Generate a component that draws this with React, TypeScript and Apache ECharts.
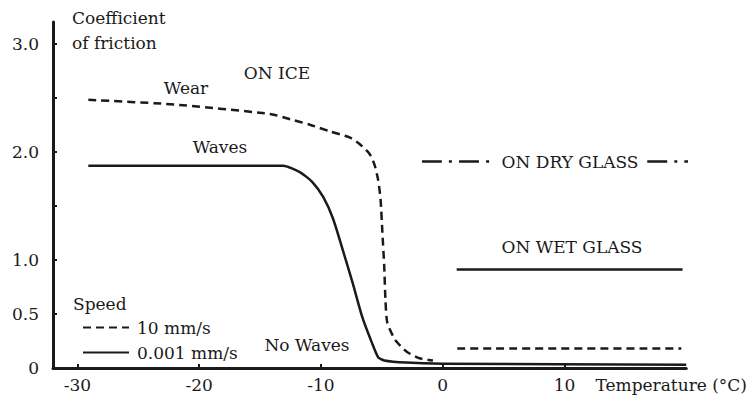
import React, { useEffect, useRef } from 'react';
import * as echarts from 'echarts';

// Temperature (°C) / coefficient of friction readings
const iceFastT = [-29.1, -22.4, -14.2, -12.5, -10.9, -9.3, -7.6, -6.8, -6.0, -5.6, -5.3, -5.1, -4.95, -4.8, -4.7, -4.55, -3.9, -2.95, -1.9, -0.8];
const iceFastV = [2.48, 2.44, 2.35, 2.3, 2.25, 2.19, 2.13, 2.07, 1.98, 1.88, 1.74, 1.56, 1.25, 0.94, 0.63, 0.42, 0.26, 0.15, 0.09, 0.07];
const iceSlowT = [-29.1, -13.1, -11.7, -10.7, -9.8, -9.0, -8.2, -7.4, -6.6, -5.8, -5.3, -4.8, -3.0, 0, 20];
const iceSlowV = [1.87, 1.87, 1.81, 1.72, 1.58, 1.38, 1.09, 0.79, 0.47, 0.23, 0.1, 0.07, 0.05, 0.04, 0.03];
const dryGlassLeftT = [-1.7, 3.85];
const dryGlassRightT = [16.8, 20.5];
const dryGlassV = 1.91;
const wetGlassSlowT = [1.15, 19.7];
const wetGlassSlowV = 0.91;
const wetGlassFastT = [1.2, 19.6];
const wetGlassFastV = 0.18;

const xTickValues = [-30, -20, -10, 0, 10];
const xTickLabels = ['-30', '-20', '-10', '0', '10'];
const yTickValues = [0, 0.5, 1, 2, 3];
const yTickLabels = ['0', '0.5', '1.0', '2.0', '3.0'];
const yTickMarks = [0, 0.5, 1, 1.5, 2, 2.5, 3];

const FAST = '10 mm/s';
const SLOW = '0.001 mm/s';

const FONT = 'DejaVu Serif';
const INK = '#1a1a1a';

const zip = (t: number[], v: number[]) => t.map((x, i) => [x, v[i]]);
const flat = (t: number[], v: number) => t.map((x) => [x, v]);

export default function App() {
  const ref = useRef<HTMLDivElement>(null);
  useEffect(() => {
    if (!ref.current) return;
    const chart = echarts.init(ref.current, undefined, { renderer: 'svg' });
    const dashed = { color: INK, width: 2.5, type: [8, 5] as any };
    const solid = { color: INK, width: 2.5, type: 'solid' as any };
    const dashDot = { color: INK, width: 2.5, type: [20, 7, 3, 7] as any };
    const base = { type: 'line' as const, symbol: 'none', smooth: 0.2, silent: true, itemStyle: { color: INK } };
    const txt = (text: string, x: number, y: number, align = 'center') => ({
      type: 'text',
      x,
      y,
      silent: true,
      style: { text, fontFamily: FONT, fontSize: 17, fill: INK, align, verticalAlign: 'middle' },
    });
    chart.setOption({
      animation: false,
      grid: { left: 53, right: 63, top: 22, bottom: 29 },
      legend: {
        data: [FAST, SLOW],
        orient: 'vertical',
        left: 82,
        top: 319,
        padding: 0,
        itemWidth: 46,
        itemHeight: 14,
        itemGap: 8,
        selectedMode: false,
        itemStyle: { opacity: 0 },
        textStyle: { fontFamily: FONT, fontSize: 17, color: INK, padding: [0, 0, 0, 3] },
      },
      xAxis: {
        type: 'value',
        min: -32,
        max: 20,
        name: 'Temperature (°C)',
        nameLocation: 'end',
        nameGap: -15,
        nameTextStyle: { fontFamily: FONT, fontSize: 17, color: INK, align: 'center', verticalAlign: 'top', padding: [8, 0, 0, 0] },
        axisLine: { onZero: false, lineStyle: { color: INK, width: 3 } },
        axisTick: { show: true, inside: true, length: 4, customValues: xTickValues, lineStyle: { color: INK, width: 2 } },
        axisLabel: {
          customValues: xTickValues,
          formatter: (v: number) => xTickLabels[xTickValues.indexOf(v)] ?? '',
          fontFamily: FONT,
          fontSize: 17,
          color: INK,
          margin: 8,
        },
        splitLine: { show: false },
      },
      yAxis: {
        type: 'value',
        min: 0,
        max: 3.2,
        name: 'Coefficient\nof friction',
        nameLocation: 'end',
        nameGap: 17,
        nameTextStyle: { fontFamily: FONT, fontSize: 17, color: INK, align: 'left', verticalAlign: 'top', lineHeight: 25, padding: [0, 0, 0, 19] },
        axisLine: { show: true, onZero: false, lineStyle: { color: INK, width: 3 } },
        axisTick: { show: true, inside: true, length: 4, customValues: yTickMarks, lineStyle: { color: INK, width: 2 } },
        axisLabel: {
          customValues: yTickValues,
          formatter: (v: number) => yTickLabels[yTickValues.indexOf(v)] ?? '',
          fontFamily: FONT,
          fontSize: 17,
          color: INK,
          margin: 14,
        },
        splitLine: { show: false },
      },
      series: [
        { ...base, name: FAST, data: zip(iceFastT, iceFastV), lineStyle: dashed },
        { ...base, name: SLOW, data: zip(iceSlowT, iceSlowV), lineStyle: solid },
        { ...base, name: 'ON DRY GLASS', data: flat(dryGlassLeftT, dryGlassV), lineStyle: dashDot, clip: false },
        { ...base, name: 'ON DRY GLASS ', data: flat(dryGlassRightT, dryGlassV), lineStyle: dashDot, clip: false },
        { ...base, name: SLOW, data: flat(wetGlassSlowT, wetGlassSlowV), lineStyle: solid },
        { ...base, name: FAST, data: flat(wetGlassFastT, wetGlassFastV), lineStyle: dashed },
      ],
      graphic: [
        txt('ON ICE', 277, 73),
        txt('Wear', 186, 88),
        txt('Waves', 220, 147),
        txt('No Waves', 307, 345),
        txt('ON DRY GLASS', 570, 162),
        txt('ON WET GLASS', 572, 247),
        txt('Speed', 73, 304, 'left'),
      ],
    });
    return () => chart.dispose();
  }, []);
  return <div ref={ref} style={{ width: 750, height: 397, position: 'absolute', left: 0, top: 0 }} />;
}
